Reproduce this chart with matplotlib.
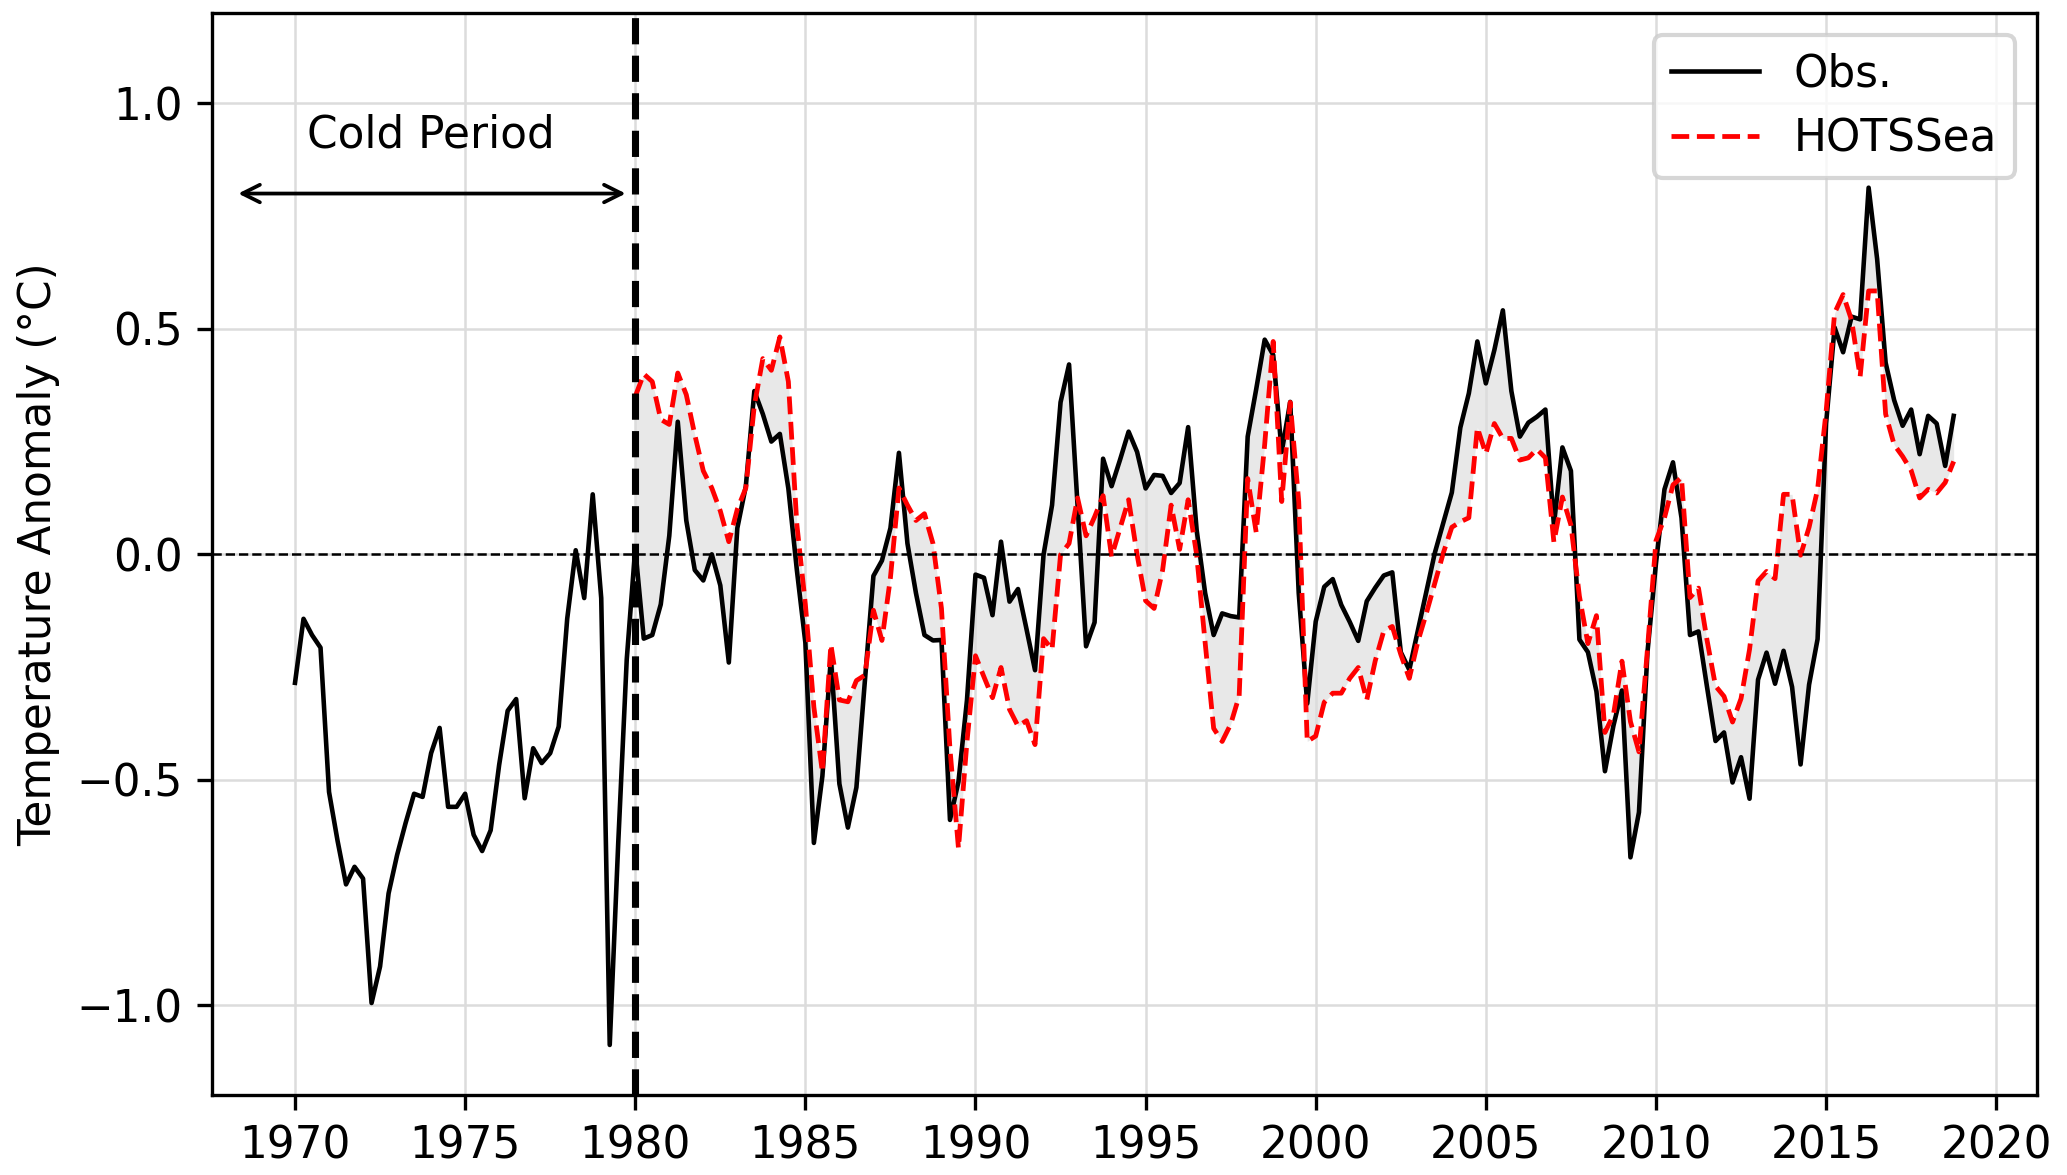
import numpy as np
import matplotlib
matplotlib.use('agg')
import matplotlib.pyplot as plt

# quarterly anomalies (deg C)
obs_start = 1970.0
obs_values = [
    -0.285, -0.143, -0.179, -0.207,   # 1970
    -0.527, -0.635, -0.732, -0.693,   # 1971
    -0.719, -0.995, -0.914, -0.752,   # 1972
    -0.667, -0.596, -0.531, -0.538,   # 1973
    -0.441, -0.385, -0.560, -0.560,   # 1974
    -0.531, -0.622, -0.658, -0.612,   # 1975
    -0.467, -0.347, -0.321, -0.541,   # 1976
    -0.430, -0.463, -0.441, -0.382,   # 1977
    -0.143, 0.009, -0.097, 0.133,     # 1978
    -0.097, -1.088, -0.640, -0.233,   # 1979
    0.013, -0.187, -0.179, -0.111,    # 1980
    0.041, 0.294, 0.075, -0.035,      # 1981
    -0.058, 0.000, -0.069, -0.240,    # 1982
    0.058, 0.151, 0.362, 0.311,       # 1983
    0.250, 0.267, 0.146, -0.035,      # 1984
    -0.196, -0.640, -0.492, -0.229,   # 1985
    -0.509, -0.606, -0.517, -0.280,   # 1986
    -0.048, -0.014, 0.058, 0.225,     # 1987
    0.024, -0.086, -0.179, -0.191,    # 1988
    -0.190, -0.589, -0.504, -0.323,   # 1989
    -0.045, -0.052, -0.135, 0.028,    # 1990
    -0.105, -0.077, -0.166, -0.257,   # 1991
    -0.001, 0.109, 0.337, 0.421,      # 1992
    0.109, -0.204, -0.151, 0.212,     # 1993
    0.151, 0.210, 0.272, 0.227,       # 1994
    0.146, 0.176, 0.174, 0.136,       # 1995
    0.158, 0.282, 0.054, -0.086,      # 1996
    -0.179, -0.131, -0.137, -0.140,   # 1997
    0.261, 0.366, 0.476, 0.442,       # 1998
    0.227, 0.338, -0.086, -0.331,     # 1999
    -0.149, -0.072, -0.055, -0.112,   # 2000
    -0.150, -0.192, -0.104, -0.074,   # 2001
    -0.047, -0.040, -0.217, -0.256,   # 2002
    -0.170, -0.083, 0.003, 0.070,     # 2003
    0.137, 0.281, 0.357, 0.472,       # 2004
    0.379, 0.453, 0.541, 0.362,       # 2005
    0.261, 0.292, 0.305, 0.321,       # 2006
    0.065, 0.237, 0.185, -0.189,      # 2007
    -0.217, -0.304, -0.481, -0.380,   # 2008
    -0.302, -0.672, -0.572, -0.217,   # 2009
    -0.020, 0.144, 0.204, 0.081,      # 2010
    -0.179, -0.171, -0.294, -0.414,   # 2011
    -0.395, -0.506, -0.450, -0.542,   # 2012
    -0.278, -0.218, -0.287, -0.214,   # 2013
    -0.294, -0.466, -0.289, -0.188,   # 2014
    0.290, 0.503, 0.448, 0.527,       # 2015
    0.521, 0.813, 0.655, 0.425,       # 2016
    0.342, 0.285, 0.321, 0.222,       # 2017
    0.307, 0.290, 0.196, 0.307,       # 2018
]

model_start = 1980.0
model_values = [
    0.350, 0.400, 0.383, 0.299,       # 1980
    0.288, 0.402, 0.354, 0.265,       # 1981
    0.185, 0.147, 0.096, 0.028,       # 1982
    0.100, 0.147, 0.330, 0.434,       # 1983
    0.408, 0.482, 0.383, 0.066,       # 1984
    -0.111, -0.339, -0.483, -0.200,   # 1985
    -0.323, -0.327, -0.280, -0.268,   # 1986
    -0.124, -0.191, -0.052, 0.147,    # 1987
    0.109, 0.075, 0.090, 0.024,       # 1988
    -0.120, -0.432, -0.652, -0.415,   # 1989
    -0.225, -0.272, -0.318, -0.251,   # 1990
    -0.344, -0.381, -0.369, -0.422,   # 1991
    -0.187, -0.211, -0.001, 0.024,    # 1992
    0.125, 0.041, 0.083, 0.130,       # 1993
    -0.005, 0.058, 0.121, -0.001,     # 1994
    -0.103, -0.120, -0.035, 0.109,    # 1995
    0.011, 0.121, -0.001, -0.196,     # 1996
    -0.386, -0.415, -0.377, -0.314,   # 1997
    0.168, 0.049, 0.244, 0.472,       # 1998
    0.117, 0.337, 0.117, -0.415,      # 1999
    -0.403, -0.328, -0.308, -0.308,   # 2000
    -0.275, -0.251, -0.323, -0.236,   # 2001
    -0.170, -0.160, -0.222, -0.275,   # 2002
    -0.194, -0.131, -0.064, 0.003,    # 2003
    0.060, 0.072, 0.081, 0.281,       # 2004
    0.223, 0.290, 0.257, 0.257,       # 2005
    0.209, 0.214, 0.233, 0.214,       # 2006
    0.027, 0.127, 0.065, -0.093,      # 2007
    -0.198, -0.136, -0.395, -0.356,   # 2008
    -0.237, -0.371, -0.438, -0.210,   # 2009
    0.030, 0.081, 0.154, 0.170,       # 2010
    -0.096, -0.075, -0.190, -0.292,   # 2011
    -0.315, -0.372, -0.320, -0.211,   # 2012
    -0.059, -0.038, -0.054, 0.133,    # 2013
    0.133, -0.002, 0.060, 0.144,      # 2014
    0.316, 0.535, 0.576, 0.519,       # 2015
    0.394, 0.584, 0.584, 0.311,       # 2016
    0.243, 0.217, 0.186, 0.125,       # 2017
    0.144, 0.136, 0.159, 0.206,       # 2018
]

x_ticks = [1970, 1975, 1980, 1985, 1990, 1995, 2000, 2005, 2010, 2015, 2020]
y_ticks = [-1.0, -0.5, 0.0, 0.5, 1.0]

obs = np.array(obs_values)
mod = np.array(model_values)
t_obs = obs_start + 0.25 * np.arange(len(obs))
t_mod = model_start + 0.25 * np.arange(len(mod))
overlap = t_obs >= model_start

plt.rcParams['font.size'] = 10.5

fig, ax = plt.subplots(figsize=(2067 / 300, 1175 / 300), dpi=300)
fig.subplots_adjust(left=0.1026, right=0.9853, top=0.9888, bottom=0.0677)

ax.grid(True, color='#dcdcdc', lw=0.6)
ax.fill_between(t_mod, obs[overlap], mod, color='lightgray', alpha=0.5, lw=0)
ax.plot(t_obs, obs, color='black', lw=1.1, label='Obs.')
ax.plot(t_mod, mod, color='red', ls='--', lw=1.15, label='HOTSSea')
ax.axhline(0, color='black', ls='--', lw=0.6)
ax.axvline(1980, color='black', ls='--', lw=1.7)

# cold period marker
ax.annotate('', xy=(1968.33, 0.80), xytext=(1979.72, 0.80),
            arrowprops=dict(arrowstyle='<->', color='black', lw=0.9,
                            shrinkA=0, shrinkB=0))
ax.text(1974.0, 0.93, 'Cold Period', ha='center', va='center')

ax.set_ylim(-1.2, 1.2)
ax.set_xticks(x_ticks)
ax.set_yticks(y_ticks)
ax.set_ylabel('Temperature Anomaly (°C)')
ax.legend(loc='upper right', handlelength=2.0)

fig.savefig('out.png', dpi=300)
plt.close(fig)
